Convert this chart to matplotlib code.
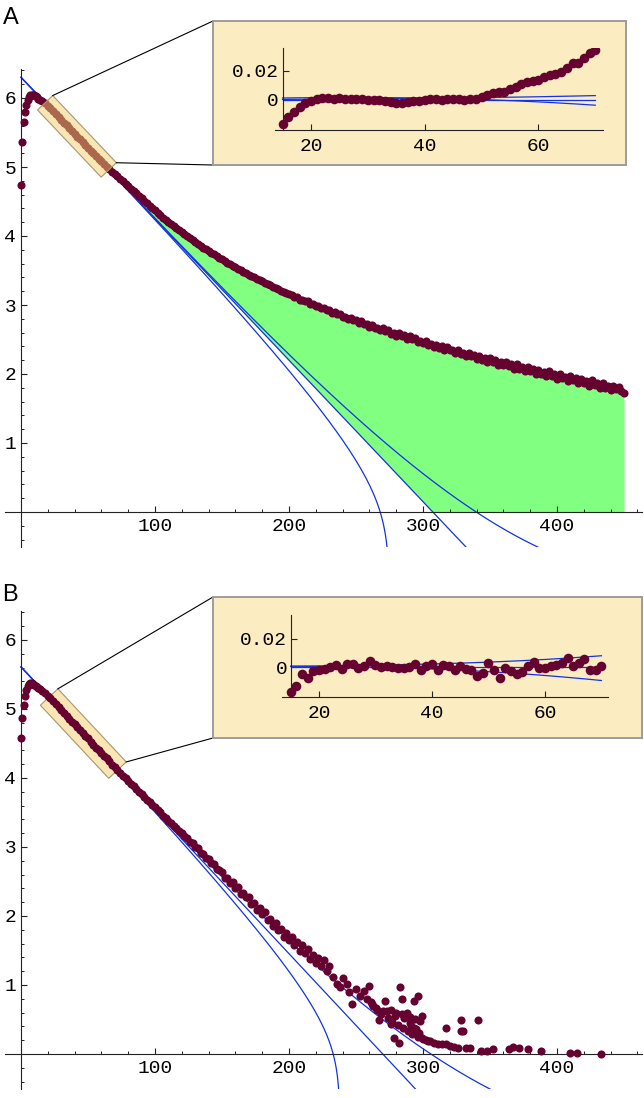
import numpy as np
import matplotlib
matplotlib.use("Agg")
import matplotlib.pyplot as plt
from matplotlib.patches import Polygon
from matplotlib.lines import Line2D
from matplotlib.ticker import FixedLocator, FixedFormatter

# ---------------- Panel A data ----------------
xA = list(range(0, 15)) + list(range(16, 451, 2))
yA = [4.74, 5.36, 5.65, 5.80, 5.90, 5.97, 6.02, 6.04, 6.05, 6.05, 6.04, 6.03, 6.01, 5.99, 5.97,
      5.961, 5.926, 5.890, 5.851, 5.809, 5.768, 5.727, 5.685, 5.644, 5.602, 5.560, 5.520, 5.480, 5.440,
      5.399, 5.358, 5.317, 5.277, 5.239, 5.199, 5.161, 5.123, 5.084, 5.046, 5.007, 4.972, 4.934, 4.899,
      4.863, 4.828, 4.792, 4.757, 4.721, 4.686, 4.651, 4.616, 4.580, 4.545, 4.510, 4.475, 4.440, 4.405,
      4.370, 4.335, 4.301, 4.268, 4.235, 4.203, 4.172, 4.141, 4.110, 4.080,
      4.051, 4.022, 3.994, 3.966, 3.938, 3.911, 3.884, 3.858, 3.832, 3.806,
      3.781, 3.756, 3.732, 3.708, 3.684, 3.660, 3.637, 3.614, 3.592, 3.570,
      3.548, 3.526, 3.504, 3.483, 3.462, 3.441, 3.421, 3.401, 3.381, 3.361,
      3.341, 3.322, 3.303, 3.284, 3.265, 3.247, 3.228, 3.210, 3.192, 3.175, 3.157,
      3.148, 3.117, 3.110, 3.079, 3.079, 3.054, 3.052, 3.016, 3.011, 2.981,
      2.986, 2.958, 2.960, 2.923, 2.921, 2.888, 2.897, 2.870, 2.870, 2.833,
      2.833, 2.801, 2.814, 2.781, 2.782, 2.744, 2.763, 2.729, 2.730, 2.688,
      2.713, 2.668, 2.671, 2.633, 2.660, 2.621, 2.640, 2.585, 2.598, 2.554,
      2.588, 2.545, 2.558, 2.504, 2.544, 2.502, 2.515, 2.460, 2.485, 2.446,
      2.477, 2.418, 2.436, 2.388, 2.427, 2.383, 2.402, 2.347, 2.391, 2.342,
      2.355, 2.300, 2.345, 2.293, 2.309, 2.261, 2.309, 2.260, 2.277, 2.217,
      2.264, 2.210, 2.230, 2.174, 2.232, 2.177, 2.208, 2.130, 2.178, 2.126,
      2.180, 2.117, 2.144, 2.072, 2.139, 2.075, 2.096, 2.039, 2.108, 2.049,
      2.076, 1.997, 2.062, 2.001, 2.032, 1.966, 2.039, 1.975, 2.005, 1.927,
      1.999, 1.937, 1.959, 1.897, 1.972, 1.913, 1.940, 1.866, 1.932, 1.869,
      1.896, 1.830, 1.906, 1.845, 1.871, 1.803, 1.871, 1.804, 1.831, 1.771,
      1.833, 1.780, 1.808, 1.751, 1.723]

xA_in = list(range(15, 71))
rA_in = [-0.0164, -0.0114, -0.0080, -0.0045, -0.0018, -0.0005, 0.0005, 0.0016, 0.0014, 0.0010,
         0.0011, 0.0009, 0.0005, 0.0007, 0.0009, 0.0000, -0.0002, 0.0002, -0.0005, -0.0014,
         -0.0023, -0.0018, -0.0014, -0.0009, -0.0005, 0.0000, 0.0007, 0.0005, 0.0002, 0.0007,
         0.0009, 0.0005, 0.0000, 0.0005, 0.0009, 0.0023, 0.0034, 0.0050, 0.0057, 0.0055,
         0.0073, 0.0091, 0.0109, 0.0120, 0.0127, 0.0136, 0.0155, 0.0170, 0.0177, 0.0193,
         0.0216, 0.0250, 0.0255, 0.0284, 0.0318, 0.0341]

# fits: straight line [a, b]; curve1 [alpha, xc, e]; curve3 [k, n, e]
fitA_line = [6.30, -0.0205]
fitA_c1 = [0.31, 275.0, 0.00125]
fitA_c3 = [4.92e-11, 4.0, 2.6e-5]
rectA_x = [18.0, 65.5]

# ---------------- Panel B data ----------------
xB = list(range(0, 15)) + list(range(16, 231, 2))
yB = [4.58, 4.87, 5.06, 5.19, 5.28, 5.33, 5.36, 5.37, 5.37, 5.365, 5.355, 5.34, 5.325, 5.31, 5.295,
      5.264, 5.228, 5.192, 5.153, 5.110, 5.072, 5.029, 4.988, 4.946, 4.903,
      4.862, 4.818, 4.781, 4.739, 4.694, 4.653, 4.606, 4.574, 4.521, 4.485,
      4.442, 4.408, 4.362, 4.324, 4.287, 4.242, 4.195, 4.156,
      4.116, 4.075, 4.036, 3.996, 3.958, 3.919, 3.881, 3.842, 3.803, 3.765,
      3.726, 3.688, 3.649, 3.611, 3.575, 3.530, 3.502, 3.455, 3.426, 3.380,
      3.352, 3.305, 3.281, 3.232, 3.205, 3.155, 3.130, 3.078, 3.056, 3.001,
      2.982, 2.918, 2.905, 2.842, 2.830, 2.765, 2.752, 2.688, 2.671,
      2.639, 2.549, 2.549, 2.478, 2.497, 2.410, 2.419, 2.317, 2.336, 2.269,
      2.280, 2.172, 2.189, 2.086, 2.117, 2.035, 2.056, 1.942, 1.954, 1.850,
      1.897, 1.798, 1.817, 1.697, 1.756, 1.654, 1.702, 1.581, 1.619, 1.498,
      1.576, 1.465, 1.523, 1.381, 1.440, 1.313, 1.397, 1.280, 1.359, 1.202, 1.280]

xB_tail = [233, 236, 238, 240, 243, 245, 247, 250, 253, 256, 258, 260, 261, 262, 263, 265, 266, 267,
           269, 270, 272, 273, 274, 276, 276, 277, 278, 279, 280, 281, 282, 283, 284, 284, 285, 286,
           287, 288, 289, 290, 290, 291, 292, 293, 293, 294, 295, 296, 296, 297, 298, 299, 299, 300,
           302, 304, 305, 308, 311, 314, 317, 317, 320, 323, 326, 328, 328, 330, 332, 335, 341, 343,
           348, 352, 364, 367, 372, 378, 388, 410, 415, 433]
yB_tail = [1.12, 1.02, 0.97, 1.10, 1.01, 0.90, 0.72, 0.94, 0.84, 0.92, 0.80, 0.99, 0.75, 0.72, 0.70,
           0.67, 0.64, 0.50, 0.58, 0.62, 0.77, 0.62, 0.52, 0.43, 0.64, 0.47, 0.23, 0.55, 0.60, 0.42,
           0.16, 0.97, 0.80, 0.58, 0.37, 0.52, 0.56, 0.60, 0.33, 0.45, 0.53, 0.40, 0.29, 0.77, 0.38,
           0.51, 0.36, 0.84, 0.25, 0.30, 0.48, 0.55, 0.23, 0.22, 0.21, 0.19, 0.19, 0.16, 0.14, 0.15,
           0.14, 0.37, 0.12, 0.10, 0.09, 0.50, 0.34, 0.34, 0.09, 0.08, 0.50, 0.05, 0.05, 0.07, 0.07,
           0.10, 0.09, 0.07, 0.04, 0.02, 0.01, 0.00]

xB_in = list(range(15, 71))
rB_in = [-0.0181, -0.0135, -0.0053, -0.0077, -0.0030, -0.0019, -0.0012, 0.0000, 0.0012, -0.0012,
         0.0023, 0.0023, -0.0007, 0.0009, 0.0040, 0.0016, 0.0000, 0.0009, 0.0000, -0.0007,
         -0.0007, 0.0000, 0.0023, -0.0019, 0.0009, 0.0023, -0.0019, 0.0016, 0.0009, -0.0019,
         0.0009, -0.0014, -0.0019, -0.0065, -0.0042, 0.0028, -0.0019, -0.0077, -0.0007, -0.0030,
         -0.0053, -0.0037, 0.0009, 0.0033, -0.0007, -0.0007, 0.0005, 0.0016, 0.0028, 0.0067,
         0.0005, 0.0028, 0.0056, -0.0023, -0.0019, 0.0009]

fitB_line = [5.61, -0.02078]
fitB_c1 = [0.275, 238.1, 0.00123]
fitB_c3 = [5.49e-9, 3.27, 3.0e-5]
rectB_x = [21.0, 72.0]

# ---------------- styling ----------------
W, H = 644, 1098
DOT = '#650230'
BLUE = '#1233e6'
GREEN = '#80ff80'
BEIGE = '#fcecc2'
RECT_C = '#f2cf6a'
MONO = 'Liberation Mono'
SANS = 'Liberation Sans'
DOT_S = 34
IN_DOT_S = 48

fig = plt.figure(figsize=(W / 100, H / 100), dpi=100)
fig.patch.set_facecolor('white')


def f_line(p, x):
    return p[0] + p[1] * x


def f_c1(pl, p, x):
    return f_line(pl, x) + p[0] * np.log(1 - x / p[1]) + p[2] * x


def f_c3(pl, p, x):
    return f_line(pl, x) + p[0] * x ** p[1] + p[2] * x


def px_axes(l, t, r, b, **kw):
    return fig.add_axes([l / W, 1 - b / H, (r - l) / W, (b - t) / H], **kw)


X0PX, PPUX, PPUY = 21.0, 1.34, 69.0
YL = (-0.507, 6.42)


def main_axes(zero_py):
    lpx, rpx = 5, 642
    top = zero_py - YL[1] * PPUY
    bot = zero_py - YL[0] * PPUY
    ax = px_axes(lpx, top, rpx, bot)
    ax.set_xlim((lpx - X0PX) / PPUX, (rpx - X0PX) / PPUX)
    ax.set_ylim(*YL)
    ax.patch.set_alpha(0)
    for s in ['top', 'right']:
        ax.spines[s].set_visible(False)
    for s in ['left', 'bottom']:
        ax.spines[s].set_position(('data', 0))
        ax.spines[s].set_linewidth(0.8)
        ax.spines[s].set_color('#222222')
    ax.xaxis.set_major_locator(FixedLocator([100, 200, 300, 400]))
    ax.xaxis.set_major_formatter(FixedFormatter(['100', '200', '300', '400']))
    ax.xaxis.set_minor_locator(FixedLocator([v for v in range(20, 461, 20) if v % 100]))
    ax.yaxis.set_major_locator(FixedLocator([1, 2, 3, 4, 5, 6]))
    ax.yaxis.set_major_formatter(FixedFormatter(['1', '2', '3', '4', '5', '6']))
    ax.yaxis.set_minor_locator(FixedLocator([round(v, 1) for v in np.arange(-0.4, 6.41, 0.2)
                                             if abs(v - round(v)) > 1e-6]))
    ax.tick_params(which='major', direction='in', length=4.2, width=0.8, color='#222222',
                   labelsize=14)
    ax.tick_params(which='minor', direction='in', length=2.3, width=0.7, color='#222222')
    ax.tick_params(axis='x', which='major', pad=4.5)
    ax.tick_params(axis='y', which='major', pad=3.5)
    for lab in ax.get_xticklabels() + ax.get_yticklabels():
        lab.set_family(MONO)
    return ax


def draw_fits(ax, pl, p1, p3):
    xs = np.linspace(0, 470, 3000)
    x1 = np.linspace(0, p1[1] * (1 - 1e-7), 6000)
    ax.plot(xs, f_line(pl, xs), color=BLUE, lw=0.9, zorder=2)
    ax.plot(x1, f_c1(pl, p1, x1), color=BLUE, lw=0.9, zorder=2)
    ax.plot(xs, f_c3(pl, p3, xs), color=BLUE, lw=0.9, zorder=2)


def band_rect(ax, pl, xr, half_px, z, alpha):
    p1 = ax.transData.transform((xr[0], f_line(pl, xr[0])))
    p2 = ax.transData.transform((xr[1], f_line(pl, xr[1])))
    d = (p2 - p1) / np.hypot(*(p2 - p1))
    n = np.array([-d[1], d[0]])
    corners_disp = [p1 + half_px * n, p2 + half_px * n, p2 - half_px * n, p1 - half_px * n]
    inv = ax.transData.inverted()
    pts = [inv.transform(c) for c in corners_disp]
    ax.add_patch(Polygon(pts, closed=True, facecolor=RECT_C, alpha=alpha, edgecolor='none',
                         zorder=z))
    ax.add_patch(Polygon(pts, closed=True, facecolor='none', edgecolor='#a89870', lw=0.8,
                         zorder=z + 0.01))
    return corners_disp[0], corners_disp[1]


def inset_panel(box, axpx, xlim, ylim, xr, rr, pl, p1, p3, top_corner, low_corner):
    l, t, r, b = box
    bx = px_axes(l, t, r, b, zorder=3)
    bx.set_facecolor(BEIGE)
    bx.set_xticks([])
    bx.set_yticks([])
    for s in bx.spines.values():
        s.set_color('#9c9c9c')
        s.set_linewidth(1.4)
    ia = px_axes(*axpx, zorder=4)
    ia.patch.set_alpha(0)
    ia.set_xlim(*xlim)
    ia.set_ylim(*ylim)
    for s in ['top', 'right']:
        ia.spines[s].set_visible(False)
    ia.spines['left'].set_position(('data', 15))
    for s in ['left', 'bottom']:
        ia.spines[s].set_linewidth(0.8)
        ia.spines[s].set_color('#222222')
    ia.xaxis.set_major_locator(FixedLocator([20, 40, 60]))
    ia.xaxis.set_major_formatter(FixedFormatter(['20', '40', '60']))
    ia.yaxis.set_major_locator(FixedLocator([0, 0.02]))
    ia.yaxis.set_major_formatter(FixedFormatter(['0', '0.02']))
    ia.tick_params(which='major', direction='in', length=4, width=0.8, labelsize=14,
                   color='#222222')
    ia.tick_params(axis='x', pad=5.5)
    ia.tick_params(axis='y', pad=2.5)
    for lab in ia.get_xticklabels() + ia.get_yticklabels():
        lab.set_family(MONO)
    xs = np.linspace(15, 70, 300)
    base = f_line(pl, xs)
    ia.plot(xs, base - base, color=BLUE, lw=0.9, zorder=2)
    ia.plot(xs, f_c1(pl, p1, xs) - base, color=BLUE, lw=0.9, zorder=2)
    ia.plot(xs, f_c3(pl, p3, xs) - base, color=BLUE, lw=0.9, zorder=2)
    ia.scatter(xr, rr, s=IN_DOT_S, color=DOT, linewidths=0, zorder=3)
    tf = fig.transFigure.inverted()
    a1 = tf.transform(top_corner)
    a2 = tf.transform(low_corner)
    fig.add_artist(Line2D([a1[0], l / W], [a1[1], 1 - t / H], color='black', lw=0.8,
                          transform=fig.transFigure, zorder=2.5))
    fig.add_artist(Line2D([a2[0], l / W], [a2[1], 1 - b / H], color='black', lw=0.8,
                          transform=fig.transFigure, zorder=2.5))


# ---------------- Panel A ----------------
axA = main_axes(512)
xa = np.array(xA, float)
ya = np.array(yA, float)
lowA = np.maximum(f_line(fitA_line, xa), 0)
m = xa >= 60
axA.fill_between(xa[m], ya[m], lowA[m], where=ya[m] > lowA[m], color=GREEN, lw=0, zorder=1)
draw_fits(axA, fitA_line, fitA_c1, fitA_c3)
axA.scatter(xa, ya, s=DOT_S, color=DOT, linewidths=0, zorder=3)
tcA, lcA = band_rect(axA, fitA_line, rectA_x, 10.5, 4, 0.5)
inset_panel((213, 21, 626, 165), (275, 48, 603, 130), (13.67, 71.36), (-0.0205, 0.0355),
            xA_in, rA_in, fitA_line, fitA_c1, fitA_c3, tcA, lcA)

# ---------------- Panel B ----------------
axB = main_axes(1054)
draw_fits(axB, fitB_line, fitB_c1, fitB_c3)
tcB, lcB = band_rect(axB, fitB_line, rectB_x, 12.0, 1.5, 0.5)
axB.scatter(xB, yB, s=DOT_S, color=DOT, linewidths=0, zorder=3)
axB.scatter(xB_tail, yB_tail, s=DOT_S, color=DOT, linewidths=0, zorder=3)
inset_panel((213, 597, 642, 738), (282, 615, 608, 697), (13.46, 71.16), (-0.0214, 0.0371),
            xB_in, rB_in, fitB_line, fitB_c1, fitB_c3, tcB, lcB)

fig.text(3 / W, 1 - 24 / H, 'A', fontsize=17, family=SANS, va='baseline', ha='left')
fig.text(2 / W, 1 - 601 / H, 'B', fontsize=17, family=SANS, va='baseline', ha='left')

fig.savefig('out.png', dpi=100, facecolor='white')
